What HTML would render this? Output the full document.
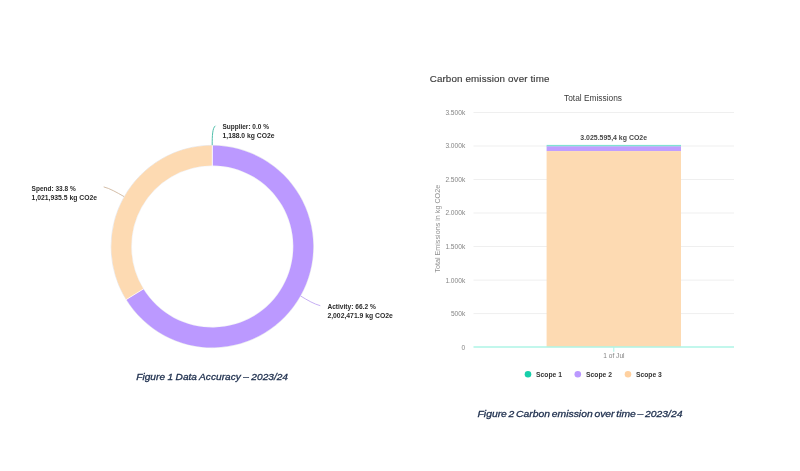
<!DOCTYPE html>
<html><head><meta charset="utf-8"><title>Charts</title>
<style>
html,body{margin:0;padding:0;background:#fff;}
body{width:800px;height:471px;overflow:hidden;position:relative;font-family:"Liberation Sans",sans-serif;}
svg{position:absolute;left:0;top:0;filter:blur(0.4px);}
text{font-family:"Liberation Sans",sans-serif;}
.lb{font-size:6.5px;font-weight:bold;fill:#2a2a2a;}
.ax{font-size:6.6px;fill:#858585;}
.lg{font-size:6.7px;font-weight:bold;fill:#333;}
.cap{font-size:8.9px;font-style:italic;fill:#1c2d4c;stroke:#1c2d4c;stroke-width:0.28px;word-spacing:-1px;}
</style></head><body>
<svg width="800" height="471" viewBox="0 0 800 471">
<rect width="800" height="471" fill="#fff"/>
<!-- donut -->
<circle cx="212.3" cy="246.5" r="101.2" fill="none" stroke="#9aa0b4" stroke-opacity="0.35" stroke-width="0.6"/><circle cx="212.3" cy="246.5" r="80.8" fill="none" stroke="#9aa0b4" stroke-opacity="0.25" stroke-width="0.5"/>
<path d="M212.56,145.50 A101.0,101.0 0 1 1 126.35,299.54 L143.37,289.04 A81.0,81.0 0 1 0 212.51,165.50 Z" fill="#BB99FF"/>
<path d="M126.35,299.54 A101.0,101.0 0 0 1 212.04,145.50 L212.09,165.50 A81.0,81.0 0 0 0 143.37,289.04 Z" fill="#FDDAB2"/>
<line x1="125.92" y1="299.81" x2="143.79" y2="288.78" stroke="#fff" stroke-width="0.7"/>
<line x1="212.3" x2="212.3" y1="145.0" y2="166.0" stroke="#fff" stroke-width="0.8"/>
<path d="M212.2,145.2 C212.2,136 212.4,128 215.4,125.8" fill="none" stroke="#3db8a2" stroke-width="0.9"/>
<path d="M124.1,196.6 C116,192 110,188.5 103.7,186.9" fill="none" stroke="#c9ad92" stroke-width="0.8"/>
<path d="M300.6,296 C308,300.5 314,304 320.3,305.7" fill="none" stroke="#b79af0" stroke-width="0.8"/>
<text x="222.5" y="129.3" class="lb" textLength="46.4" lengthAdjust="spacingAndGlyphs">Supplier: 0.0 %</text>
<text x="222.5" y="137.8" class="lb" textLength="52" lengthAdjust="spacingAndGlyphs">1,188.0 kg CO2e</text>
<text x="31.6" y="191" class="lb" textLength="44.1" lengthAdjust="spacingAndGlyphs">Spend: 33.8 %</text>
<text x="31.6" y="199.7" class="lb" textLength="65.4" lengthAdjust="spacingAndGlyphs">1,021,935.5 kg CO2e</text>
<text x="327.4" y="308.5" class="lb" textLength="48.4" lengthAdjust="spacingAndGlyphs">Activity: 66.2 %</text>
<text x="327.4" y="317.5" class="lb" textLength="65.5" lengthAdjust="spacingAndGlyphs">2,002,471.9 kg CO2e</text>
<text x="136.3" y="380.2" class="cap" style="word-spacing:-0.3px" textLength="151.7" lengthAdjust="spacingAndGlyphs">Figure 1 Data Accuracy – 2023/24</text>
<!-- bar chart -->
<text x="429.7" y="82" font-size="9.8" fill="#3a3a3a" stroke="#3a3a3a" stroke-width="0.15" textLength="119.7" lengthAdjust="spacing">Carbon emission over time</text>
<text x="564" y="100.8" font-size="9.2" fill="#3a3a3a" textLength="58" lengthAdjust="spacingAndGlyphs">Total Emissions</text>
<text x="465.2" y="349.5" text-anchor="end" class="ax">0</text>
<line x1="473.5" x2="734" y1="313.6" y2="313.6" stroke="#e9e9e9" stroke-width="0.75"/>
<text x="465.2" y="316.0" text-anchor="end" class="ax">500k</text>
<line x1="473.5" x2="734" y1="280.1" y2="280.1" stroke="#e9e9e9" stroke-width="0.75"/>
<text x="465.2" y="282.5" text-anchor="end" class="ax">1.000k</text>
<line x1="473.5" x2="734" y1="246.5" y2="246.5" stroke="#e9e9e9" stroke-width="0.75"/>
<text x="465.2" y="248.9" text-anchor="end" class="ax">1.500k</text>
<line x1="473.5" x2="734" y1="213.0" y2="213.0" stroke="#e9e9e9" stroke-width="0.75"/>
<text x="465.2" y="215.4" text-anchor="end" class="ax">2.000k</text>
<line x1="473.5" x2="734" y1="179.5" y2="179.5" stroke="#e9e9e9" stroke-width="0.75"/>
<text x="465.2" y="181.9" text-anchor="end" class="ax">2.500k</text>
<line x1="473.5" x2="734" y1="146.0" y2="146.0" stroke="#e9e9e9" stroke-width="0.75"/>
<text x="465.2" y="148.4" text-anchor="end" class="ax">3.000k</text>
<line x1="473.5" x2="734" y1="112.5" y2="112.5" stroke="#e9e9e9" stroke-width="0.75"/>
<text x="465.2" y="114.9" text-anchor="end" class="ax">3.500k</text>

<text transform="translate(439.9,272.7) rotate(-90)" font-size="7.2" fill="#909090" textLength="87.9" lengthAdjust="spacingAndGlyphs">Total Emissions in kg CO2e</text>
<rect x="546.6" y="144.9" width="134.4" height="1.7" fill="#7fe3d2"/>
<rect x="546.6" y="146.4" width="134.4" height="4.8" fill="#C09EFF"/>
<rect x="546.6" y="151.1" width="134.4" height="196" fill="#FDDAB2"/>
<line x1="473.5" x2="734" y1="347.1" y2="347.1" stroke="#aef5e6" stroke-width="1.5"/>
<line x1="613.8" x2="613.8" y1="347" y2="351.8" stroke="#aef5e6" stroke-width="1"/>
<text x="613.9" y="357.8" text-anchor="middle" class="ax">1 of Jul</text>
<text x="580.3" y="140.1" font-size="6.8" font-weight="bold" fill="#484848" textLength="66.7" lengthAdjust="spacingAndGlyphs">3.025.595,4 kg CO2e</text>
<circle cx="528" cy="374.3" r="3.3" fill="#17cfaa"/>
<text x="536" y="376.8" class="lg" textLength="25.9" lengthAdjust="spacingAndGlyphs">Scope 1</text>
<circle cx="577.8" cy="374.3" r="3.3" fill="#BB99FF"/>
<text x="586" y="376.8" class="lg" textLength="25.9" lengthAdjust="spacingAndGlyphs">Scope 2</text>
<circle cx="628" cy="374.3" r="3.3" fill="#FFD1A0"/>
<text x="635.9" y="376.8" class="lg" textLength="25.9" lengthAdjust="spacingAndGlyphs">Scope 3</text>
<text x="477.5" y="416.9" class="cap" textLength="205" lengthAdjust="spacingAndGlyphs">Figure 2 Carbon emission over time – 2023/24</text>
</svg>
</body></html>
